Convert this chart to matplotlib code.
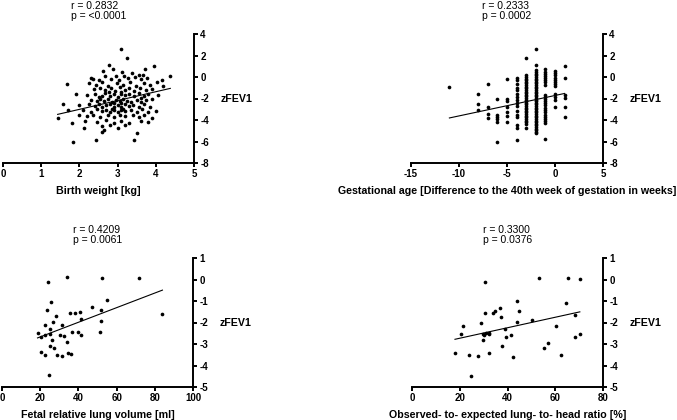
import numpy as np
import matplotlib as mp
import matplotlib.pyplot as plt

mp.use("Agg")
plt.rcParams['font.family'] = ['Liberation Sans', 'DejaVu Sans']
plt.rcParams['axes.unicode_minus'] = False

# --- panel 1: birth weight [kg] vs zFEV1 ---
bw_pts = [
    (3.08, 2.6), (3.24, 1.75), (2.77, 1.1), (3.95, 1.0), (2.88, 0.75), (3.72, 0.7), (3.12, 0.45),
    (3.38, 0.35), (2.62, 0.6), (3.55, 0.2),
    (2.30, -0.05), (2.36, -0.2), (2.52, -0.3), (2.66, 0.1), (2.82, -0.15), (2.96, 0.05), (3.04, -0.25),
    (3.18, 0.1), (3.28, -0.1), (3.46, 0.0), (3.60, -0.2), (3.66, 0.15), (3.78, -0.05), (4.15, -0.3), (4.38, 0.05),
    (1.67, -0.65), (2.25, -0.55), (2.44, -0.7), (2.58, -0.45), (2.74, -0.8), (2.98, -0.55), (3.14, -0.75),
    (3.33, -0.5), (3.48, -0.85), (3.68, -0.6), (3.86, -0.75), (4.02, -0.5), (4.2, -0.85),
    (2.38, -1.15), (2.55, -1.0), (2.68, -1.25), (2.84, -1.05), (2.94, -1.3), (3.06, -0.95), (3.2, -1.2),
    (3.3, -1.05), (3.44, -1.3), (3.58, -1.0), (3.74, -1.2), (3.9, -1.1), (3.1, -1.4), (2.78, -1.4),
    (1.9, -1.6), (2.2, -1.7), (2.4, -1.55), (2.58, -1.8), (2.68, -1.5), (2.8, -1.75), (2.9, -1.6),
    (3.0, -1.85), (3.1, -1.55), (3.2, -1.7), (3.3, -1.6), (3.42, -1.8), (3.55, -1.5), (3.7, -1.75),
    (3.8, -1.6), (4.05, -1.65), (2.5, -1.9), (3.62, -1.95),
    (2.3, -2.1), (2.45, -2.25), (2.55, -2.0), (2.65, -2.2), (2.75, -2.05), (2.85, -2.3), (2.95, -2.1),
    (3.05, -2.25), (3.15, -2.0), (3.25, -2.2), (3.35, -2.35), (3.5, -2.1), (3.6, -2.3), (3.75, -2.15),
    (3.9, -2.0), (2.9, -2.4), (3.1, -2.45),
    (1.58, -2.5), (2.0, -2.65), (2.25, -2.55), (2.4, -2.7), (2.5, -2.5), (2.6, -2.8), (2.7, -2.6),
    (2.8, -2.5), (2.9, -2.75), (3.0, -2.6), (3.1, -2.8), (3.2, -2.55), (3.3, -2.7), (3.4, -2.6),
    (3.55, -2.8), (3.7, -2.55), (3.85, -2.75), (2.85, -2.95), (3.15, -3.0),
    (1.7, -3.05), (2.1, -3.1), (2.3, -3.25), (2.45, -3.0), (2.6, -3.2), (2.7, -3.05), (2.8, -3.3),
    (2.9, -3.1), (3.0, -3.25), (3.1, -3.05), (3.2, -3.2), (3.35, -3.1), (3.5, -3.3), (3.65, -3.0),
    (3.8, -3.25), (4.0, -3.2),
    (1.43, -3.8), (2.0, -3.5), (2.2, -3.65), (2.35, -3.5), (2.55, -3.75), (2.75, -3.55), (2.9, -3.7),
    (3.05, -3.5), (3.2, -3.65), (3.4, -3.55), (3.55, -3.7), (3.7, -3.5), (3.9, -3.85),
    (1.8, -4.3), (2.15, -4.05), (2.45, -4.2), (2.7, -4.0), (2.9, -4.25), (3.1, -4.1), (3.3, -4.3),
    (3.6, -4.05), (3.8, -4.2),
    (2.13, -4.75), (2.6, -4.6), (2.8, -4.5), (3.0, -4.7), (3.2, -4.45), (2.65, -4.9),
    (2.6, -5.1), (3.5, -5.2), (1.83, -6.05), (2.43, -5.85), (3.43, -5.9),
]
bw = [p[0] for p in bw_pts]
bw_z = [p[1] for p in bw_pts]

# --- panel 2: gestational age difference (weeks) vs zFEV1 ---
ga_weeks = [-11, -8, -7, -6, -5, -4, -3, -2, -1, 0, 1]
ga_z_cols = [
    [-0.96],
    [-1.58, -2.5, -3.07],
    [-0.65, -2.75, -3.4, -3.8],
    [-2.08, -3.57, -3.75, -3.95, -4.15, -6.05],
    [-0.22, -2.05, -2.2, -2.8, -3.3, -3.6, -4.15],
    [-0.05, -0.3, -0.65, -1.0, -1.25, -1.6, -1.9, -2.1, -2.45, -2.7, -3.2, -3.5, -3.75, -4.5, -4.7, -5.85],
    [1.8, 0.15, 0.0, -0.15, -0.3, -0.45, -0.6, -0.75, -0.9, -1.05, -1.2, -1.35, -1.5, -1.65, -1.8,
     -1.95, -2.1, -2.25, -2.4, -2.55, -2.7, -2.85, -3.0, -3.15, -3.3, -3.45, -3.6, -3.75, -3.9, -4.05,
     -4.2, -4.35, -4.7],
    [2.6, 1.1, 0.65, 0.45, 0.3, 0.15, 0.0, -0.15, -0.3, -0.45, -0.6, -0.75, -0.9, -1.05, -1.2, -1.35,
     -1.5, -1.65, -1.8, -1.95, -2.1, -2.25, -2.4, -2.55, -2.7, -2.85, -3.0, -3.15, -3.3, -3.45, -3.6,
     -3.75, -3.9, -4.05, -4.2, -4.35, -4.5, -4.65, -4.8, -4.95, -5.1, -5.25],
    [0.7, 0.5, 0.3, 0.1, -0.1, -0.3, -0.5, -0.7, -1.65, -1.85, -2.05, -2.25, -2.45, -2.65, -2.9,
     -3.1, -3.3, -3.5, -3.7, -3.9, -4.1, -4.3, -5.8],
    [0.55, 0.35, 0.15, -0.05, -0.25, -0.45, -0.65, -0.85, -1.55, -1.9, -2.1, -2.75],
    [1.05, -0.12, -1.67, -1.95, -2.76, -3.75],
]

# --- panel 3: fetal relative lung volume [ml] vs zFEV1 ---
frlv = [18.6, 20.3, 22.4, 22.4, 20.5, 22.4, 23.5, 24.2, 24.7, 25.0, 25.2, 25.0, 25.9, 26.4, 26.9,
        27.1, 28.5, 29.0, 30.6, 31.6, 31.6, 32.5, 33.9, 34.1, 34.4, 35.8, 36.2, 36.5, 38.2, 39.8,
        40.9, 41.4, 41.4, 47.1, 51.7, 51.8, 51.5, 52.5, 54.8, 71.7, 84.0]
frlv_z = [-2.5, -2.67, -2.1, -2.56, -3.35, -3.5, -1.4, -0.1, -4.45, -2.54, -2.3, -3.07, -1.05, -2.8,
          -1.97, -3.2, -1.7, -3.52, -2.56, -2.13, -3.57, -2.64, -2.92, 0.1, -3.4, -1.55, -3.48, -2.43,
          -1.55, -2.45, -1.52, -1.84, -2.6, -1.3, -1.42, -1.92, -2.45, 0.08, -0.95, 0.05, -1.6]

# --- panel 4: observed-to-expected LHR [%] vs zFEV1 ---
oelhr = [18.0, 20.5, 21.5, 23.7, 24.9, 27.7, 29.1, 29.8, 29.8, 30.0, 30.4, 30.7, 30.9, 32.1, 32.3,
         32.4, 34.1, 34.6, 37.0, 37.1, 37.6, 39.1, 39.2, 41.5, 42.2, 43.9, 44.1, 44.7, 50.3, 53.2,
         55.2, 57.1, 60.2, 62.3, 64.4, 65.2, 68.2, 68.2, 70.3, 70.3]
oelhr_z = [-3.41, -2.53, -2.14, -3.5, -4.5, -3.55, -2.0, -2.53, -2.8, -2.6, -1.57, -0.12, -2.5, -3.43,
           -2.48, -2.55, -1.57, -1.46, -1.34, -1.75, -3.1, -2.31, -2.69, -2.58, -3.62, -1.0, -1.98,
           -1.48, -1.89, 0.06, -3.2, -2.96, -2.17, -3.52, -1.08, 0.08, -1.63, -2.67, 0.02, -2.52]

# regression lines (slope, intercept)
fits = [(0.82, -4.65), (0.19, -1.72), (0.034, -3.35), (0.0244, -3.22)]
stats = ["r = 0.2832\np = <0.0001", "r = 0.2333\np = 0.0002",
         "r = 0.4209\np = 0.0061", "r = 0.3300\np = 0.0376"]
xlabels = ["Birth weight [kg]",
           "Gestational age [Difference to the 40th week of gestation in weeks]",
           "Fetal relative lung volume [ml]",
           "Observed- to- expected lung- to- head ratio [%]"]

ga_x = []
ga_z = []
for w, col in zip(ga_weeks, ga_z_cols):
    ga_x += [w] * len(col)
    ga_z += col

xs = [bw, ga_x, frlv, oelhr]
ys = [bw_z, ga_z, frlv_z, oelhr_z]
xlims = [(0, 5), (-15, 5), (0, 100), (0, 80)]
xticks = [np.arange(0, 6, 1), np.arange(-15, 6, 5), np.arange(0, 101, 20), np.arange(0, 81, 20)]
ylims = [(-8, 4), (-8, 4), (-5, 1), (-5, 1)]
yticks = [np.arange(-8, 5, 2), np.arange(-8, 5, 2), np.arange(-5, 2, 1), np.arange(-5, 2, 1)]

W, H = 677, 420
boxes = [(3, 34, 194, 163), (411, 34, 603, 163), (2, 258, 193, 387), (412, 258, 603, 387)]

fig = plt.figure(figsize=(W / 100, H / 100), dpi=100)
for i in range(4):
    x0, y0, x1, y1 = boxes[i]
    ax = fig.add_axes([x0 / W, 1 - y1 / H, (x1 - x0) / W, (y1 - y0) / H])
    ax.scatter(xs[i], ys[i], s=7, c='black', linewidths=0, clip_on=False)
    m, b = fits[i]
    lx = np.array([min(xs[i]), max(xs[i])])
    ax.plot(lx, m * lx + b, color='black', lw=0.8)
    ax.set_xlim(*xlims[i])
    ax.set_ylim(*ylims[i])
    ax.set_xticks(xticks[i])
    ax.set_yticks(yticks[i])
    ax.spines['left'].set_visible(False)
    ax.spines['top'].set_visible(False)
    ax.spines['right'].set_linewidth(1.4)
    ax.spines['bottom'].set_linewidth(1.4)
    ax.yaxis.tick_right()
    ax.yaxis.set_label_position('right')
    ax.tick_params(direction='out', length=3, width=1.4, labelsize=7, pad=1.5)
    for t in ax.get_xticklabels() + ax.get_yticklabels():
        t.set_fontweight('bold')
    ax.set_xlabel(xlabels[i], fontsize=7.7, fontweight='bold', labelpad=5)
    ax.set_ylabel('zFEV1', fontsize=7.7, fontweight='bold', rotation=0,
                  ha='left', va='center', labelpad=8.5)
    ax.set_title(stats[i], fontsize=7.5, ma='left', pad=11, linespacing=1.0)
    ax.patch.set_alpha(0)

fig.savefig('out.png', dpi=100)
